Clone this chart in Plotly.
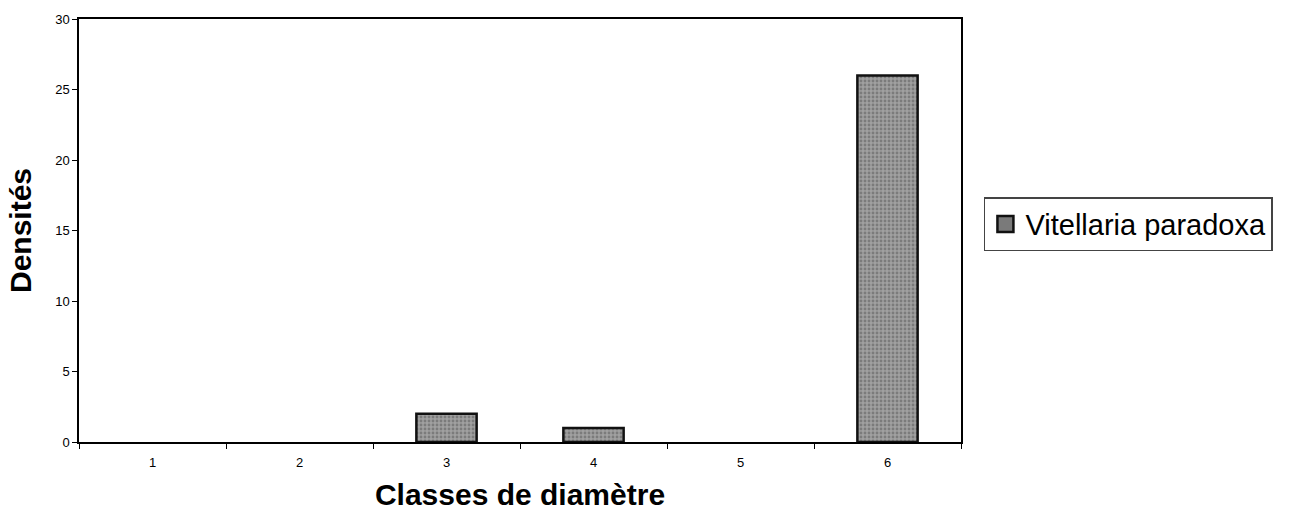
import plotly.graph_objects as go

# Diameter classes and stem densities for Vitellaria paradoxa
classes = ["1", "2", "3", "4", "5", "6"]
densites = [0, 0, 2, 1, 0, 26]
y_ticks = [0, 5, 10, 15, 20, 25, 30]
series_name = "Vitellaria paradoxa"

FONT = "Liberation Sans, Arial, sans-serif"

# Empty classes get no outline so they don't leave a stub on the axis
outline_widths = [2.5 if v > 0 else 0 for v in densites]

fig = go.Figure()
fig.add_trace(go.Bar(
    x=classes,
    y=densites,
    name=series_name,
    width=0.41,
    marker=dict(
        color="#a0a0a0",
        line=dict(color="#111111", width=outline_widths),
        pattern=dict(shape=".", fgcolor="#555555", size=4, solidity=0.4),
    ),
    showlegend=False,
))

# Legend entry with a larger swatch
fig.add_trace(go.Scatter(
    x=[None], y=[None],
    mode="markers",
    name=series_name,
    marker=dict(symbol="square", size=20, color="#7a7a7a",
                line=dict(color="#111111", width=2.5)),
    showlegend=True,
))

fig.update_layout(
    width=1304,
    height=519,
    margin=dict(l=79, r=343, t=19, b=77),
    paper_bgcolor="white",
    plot_bgcolor="white",
    font=dict(family=FONT, color="black"),
    showlegend=True,
    legend=dict(
        x=1.026, y=0.515, xanchor="left", yanchor="middle",
        bordercolor="#444444", borderwidth=1.5,
        font=dict(size=29, color="black", family=FONT),
        itemsizing="trace",
        tracegroupgap=0,
    ),
    xaxis=dict(
        type="category",
        tickson="boundaries",
        ticks="outside", ticklen=5, tickcolor="black",
        ticklabelstandoff=8,
        showline=True, linecolor="black", linewidth=1.5, mirror=True,
        showgrid=False,
        automargin=False,
        tickfont=dict(size=13, family=FONT),
        title=dict(text="<b>Classes de diamètre</b>", font=dict(size=30)),
    ),
    yaxis=dict(
        range=[0, 30],
        tickvals=y_ticks,
        ticks="outside", ticklen=5, tickcolor="black",
        showline=True, linecolor="black", linewidth=1.5, mirror=True,
        showgrid=False, zeroline=False,
        automargin=False,
        tickfont=dict(size=13, family=FONT),
        title=dict(text="<b>Densités</b>", font=dict(size=30)),
    ),
)

fig.write_html("out.html")
